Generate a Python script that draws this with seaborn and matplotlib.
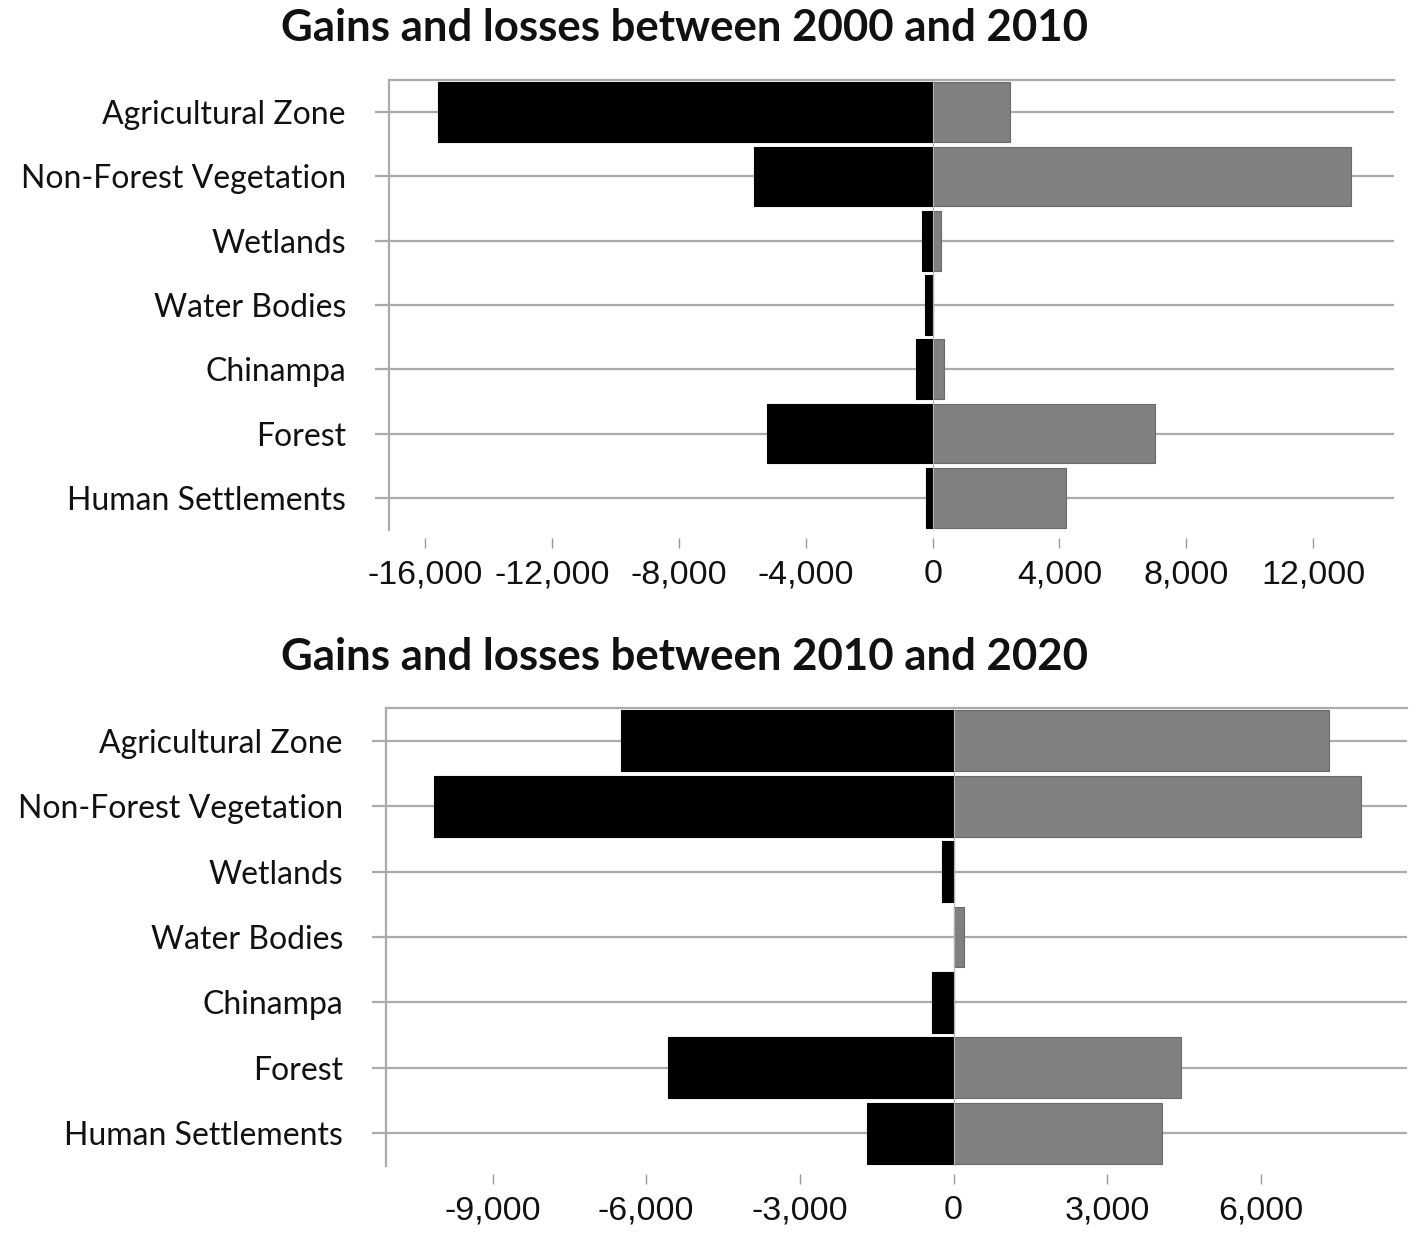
import matplotlib
matplotlib.use("Agg")
import matplotlib.pyplot as plt
import numpy as np
import pandas as pd
import seaborn as sns

# land cover classes, top to bottom
categories = [
    "Agricultural Zone",
    "Non-Forest Vegetation",
    "Wetlands",
    "Water Bodies",
    "Chinampa",
    "Forest",
    "Human Settlements",
]

# hectares
losses_2000_2010 = [-15600, -5650, -320, -235, -515, -5230, -210]
gains_2000_2010 = [2430, 13200, 270, 0, 355, 7020, 4220]
losses_2010_2020 = [-6490, -10150, -230, 0, -420, -5570, -1690]
gains_2010_2020 = [7330, 7950, 0, 195, 0, 4440, 4070]

ticks_top = [-16000, -12000, -8000, -4000, 0, 4000, 8000, 12000]
ticks_bottom = [-9000, -6000, -3000, 0, 3000, 6000]

GRID = "#ababab"
LOSS = "#000000"
GAIN = "#808080"

sns.set_theme(style="white")
plt.rcParams["font.family"] = ["Lato", "DejaVu Sans"]


def draw_panel(ax, losses, gains, ticks, xlim):
    df = pd.DataFrame({"cat": categories, "loss": losses, "gain": gains})
    for y in range(len(categories)):
        ax.axhline(y, color=GRID, lw=1.6, zorder=0)
    sns.barplot(data=df, y="cat", x="loss", color=LOSS, orient="h",
                width=0.93, edgecolor="#000000", linewidth=0.8,
                ax=ax, zorder=2, order=categories)
    sns.barplot(data=df, y="cat", x="gain", color=GAIN, orient="h",
                width=0.93, edgecolor="#6a6a6a", linewidth=0.8,
                ax=ax, zorder=2, order=categories, saturation=1)
    for p in ax.patches:
        p.set_zorder(2)
    ax.axvline(0, color="#b5b5b5", lw=0.8, zorder=3)

    ax.set_xlim(*xlim)
    ax.set_ylim(len(categories) - 0.5, -0.5)
    ax.set_xticks(ticks)
    ax.set_xticklabels([f"{t:,}" for t in ticks])
    ax.set_xlabel("")
    ax.set_ylabel("")

    for side in ["right", "bottom"]:
        ax.spines[side].set_visible(False)
    for side in ["top", "left"]:
        ax.spines[side].set_color(GRID)
        ax.spines[side].set_linewidth(1.6)
    ax.spines["bottom"].set_position(("outward", 6))

    ax.tick_params(axis="y", left=True, length=10, width=1.6, color=GRID,
                   pad=21, labelsize=23, labelcolor="#111111")
    ax.tick_params(axis="x", bottom=True, length=7, width=1.0, color="#999999",
                   pad=8, labelsize=24.5, labelcolor="#111111")
    for lab in ax.get_xticklabels():
        lab.set_family(["Liberation Sans", "DejaVu Sans"])


fig = plt.figure(figsize=(14.18, 12.38), dpi=100)

ax1 = fig.add_axes([0.2743, 0.5719, 0.7087, 0.3635])
draw_panel(ax1, losses_2000_2010, gains_2000_2010, ticks_top, (-17150, 14550))

ax2 = fig.add_axes([0.2722, 0.0582, 0.72, 0.3699])
draw_panel(ax2, losses_2010_2020, gains_2010_2020, ticks_bottom, (-11080, 8850))

fig.text(0.483, 1 - 28 / 1238, "Gains and losses between 2000 and 2010",
         ha="center", va="center", fontsize=31.5, fontweight="bold", color="#111111")
fig.text(0.483, 1 - 657 / 1238, "Gains and losses between 2010 and 2020",
         ha="center", va="center", fontsize=31.5, fontweight="bold", color="#111111")

fig.savefig("out.png", dpi=100, facecolor="white")
